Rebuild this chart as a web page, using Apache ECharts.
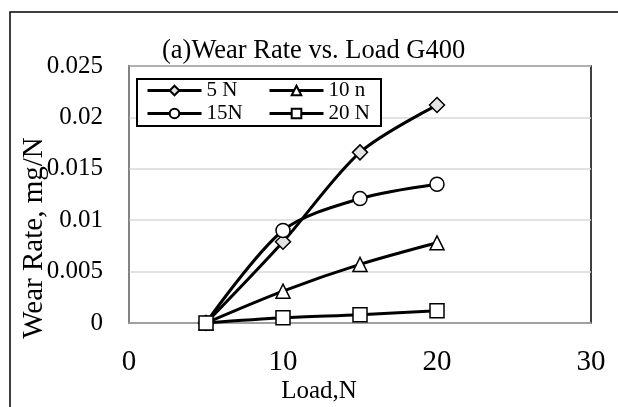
<!DOCTYPE html>
<html>
<head>
<meta charset="utf-8">
<script src="https://cdn.jsdelivr.net/npm/echarts@6/dist/echarts.min.js"></script>
<style>
  html, body { margin: 0; padding: 0; background: #fff; }
  #chart { width: 618px; height: 407px; }
</style>
</head>
<body>
<div id="chart"></div>
<script>
// Load (N) on the x axis and wear rate (mg/N) for each series
const loads = [5, 10, 15, 20];
const wear5N = [0, 0.0079, 0.0166, 0.0212];
const wear10n = [0, 0.0031, 0.0057, 0.0078];
const wear15N = [0, 0.0090, 0.0121, 0.0135];
const wear20N = [0, 0.0005, 0.0008, 0.0012];

const xTicks = { min: 0, max: 30, step: 10 };
const yTicks = { min: 0, max: 0.025, step: 0.005 };

const FONT = '"Liberation Serif", "Times New Roman", serif';

function pairs(xs, ys) {
  return xs.map((x, i) => [x, ys[i]]);
}

function lineSeries(name, values, symbol, size, fill) {
  return {
    name: name,
    type: 'line',
    data: pairs(loads, values),
    smooth: 0.3,
    symbol: symbol,
    symbolSize: size,
    showAllSymbol: true,
    lineStyle: { color: '#000', width: 3 },
    itemStyle: { color: fill, borderColor: '#000', borderWidth: 1.5 },
    emphasis: { disabled: true },
    z: 3
  };
}

const legendCommon = {
  orient: 'vertical',
  top: 80,
  itemWidth: 54, itemHeight: 12, itemGap: 2,
  padding: 0,
  lineStyle: { width: 3, color: '#000' },
  textStyle: { fontFamily: FONT, fontSize: 21, color: '#000' }
};

const chart = echarts.init(document.getElementById('chart'), null, { renderer: 'canvas' });

chart.setOption({
  animation: false,
  backgroundColor: '#fff',
  title: {
    text: '(a)Wear Rate vs. Load G400',
    left: 162,
    top: 38,
    padding: 0,
    textStyle: { fontFamily: FONT, fontSize: 26.5, fontWeight: 'normal', color: '#000' }
  },
  grid: { left: 129, right: 27, top: 66, bottom: 84, show: true, borderColor: '#000', borderWidth: 1.5, backgroundColor: 'transparent' },
  legend: [
    Object.assign({ data: ['5 N', '15N'], left: 146 }, legendCommon),
    Object.assign({ data: ['10 n', '20 N'], left: 268 }, legendCommon)
  ],
  xAxis: {
    type: 'value',
    min: xTicks.min, max: xTicks.max, interval: xTicks.step,
    axisLine: { show: true, lineStyle: { color: '#9a9a9a', width: 1.5 } },
    axisTick: { show: false },
    splitLine: { show: false },
    axisLabel: { fontFamily: FONT, fontSize: 29, color: '#000', margin: 25 }
  },
  yAxis: {
    type: 'value',
    min: yTicks.min, max: yTicks.max, interval: yTicks.step,
    axisLine: { show: true, lineStyle: { color: '#9a9a9a', width: 1.5 } },
    axisTick: { show: false },
    splitLine: { show: true, lineStyle: { color: '#d9d9d9', width: 1.5 } },
    axisLabel: { fontFamily: FONT, fontSize: 25, color: '#000', margin: 26 }
  },
  graphic: [
    {
      type: 'rect',
      shape: { x: 10, y: 12, width: 640, height: 440 },
      style: { fill: 'none', stroke: '#000', lineWidth: 1.5 },
      silent: true, z: 0
    },
    {
      type: 'rect',
      shape: { x: 137, y: 79, width: 244, height: 47 },
      style: { fill: '#fff', stroke: '#000', lineWidth: 2 },
      silent: true, z: 4
    },
    {
      type: 'text',
      x: 319, y: 391,
      style: { text: 'Load,N', font: '25px ' + FONT, fill: '#000', textAlign: 'center', textVerticalAlign: 'middle' },
      silent: true
    },
    {
      type: 'text',
      x: 34, y: 238,
      rotation: Math.PI / 2,
      style: { text: 'Wear Rate, mg/N', font: '29px ' + FONT, fill: '#000', textAlign: 'center', textVerticalAlign: 'middle' },
      silent: true
    }
  ],
  series: [
    lineSeries('5 N', wear5N, 'diamond', 15, '#e4e4e4'),
    lineSeries('10 n', wear10n, 'triangle', 14, '#fff'),
    lineSeries('15N', wear15N, 'circle', 14, '#fff'),
    lineSeries('20 N', wear20N, 'rect', 14, '#fff')
  ]
});
</script>
</body>
</html>
